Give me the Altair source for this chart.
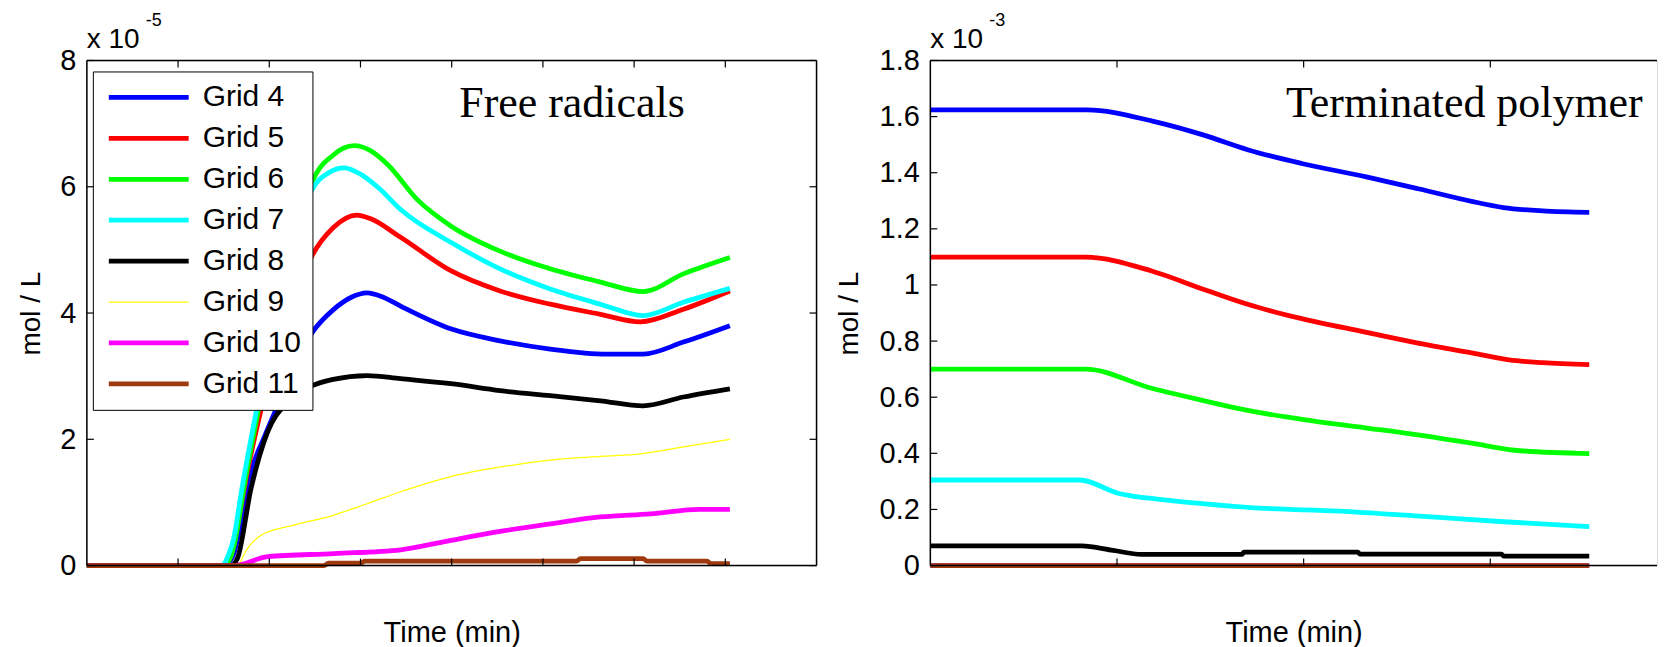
import altair as alt
import pandas as pd

# ---------------- data ----------------
names = ["Grid 4", "Grid 5", "Grid 6", "Grid 7", "Grid 8", "Grid 9", "Grid 10", "Grid 11"]
colors = ["#0000FF", "#FF0000", "#00FF00", "#00FFFF", "#000000", "#FFFF00", "#FF00FF", "#9E3A0E"]
widths = [4.8, 4.8, 4.8, 4.8, 4.8, 1.2, 4.8, 4.8]

# Free radicals (units of 1e-5 mol/L); time axis in tick units (labels hidden)
fr_x_g4 = [0, 1.50, 1.60, 1.70, 1.80, 1.95, 2.09, 2.25, 2.47, 2.70, 2.90, 3.07, 3.25, 3.44, 3.99, 4.53, 5.08, 5.70, 6.10, 6.54, 7.05]
fr_y_g4 = [0, 0, 0.15, 0.75, 1.48, 2.05, 2.53, 3.10, 3.69, 4.05, 4.25, 4.32, 4.25, 4.11, 3.75, 3.56, 3.43, 3.35, 3.35, 3.54, 3.80]
fr_x_g5 = [0, 1.50, 1.60, 1.68, 1.76, 1.92, 2.10, 2.30, 2.47, 2.70, 2.96, 3.10, 3.44, 3.99, 4.53, 5.08, 5.63, 6.07, 6.54, 7.05]
fr_y_g5 = [0, 0, 0.25, 0.85, 1.48, 2.53, 3.50, 4.35, 4.91, 5.35, 5.55, 5.50, 5.20, 4.67, 4.35, 4.14, 3.98, 3.86, 4.06, 4.35]
fr_x_g6 = [0, 1.50, 1.58, 1.63, 1.72, 1.82, 1.89, 2.02, 2.17, 2.32, 2.47, 2.70, 2.93, 3.10, 3.30, 3.62, 3.99, 4.53, 5.08, 5.63, 6.10, 6.54, 7.05]
fr_y_g6 = [0, 0, 0.15, 0.43, 1.22, 2.01, 2.53, 3.50, 4.50, 5.35, 6.07, 6.50, 6.65, 6.58, 6.35, 5.80, 5.38, 4.98, 4.70, 4.49, 4.34, 4.62, 4.88]
fr_x_g7 = [0, 1.48, 1.55, 1.61, 1.70, 1.80, 1.87, 2.00, 2.15, 2.30, 2.47, 2.65, 2.82, 3.00, 3.20, 3.44, 3.99, 4.53, 5.08, 5.63, 6.10, 6.54, 7.05]
fr_y_g7 = [0, 0, 0.16, 0.43, 1.22, 2.01, 2.53, 3.50, 4.50, 5.30, 5.96, 6.22, 6.30, 6.20, 5.98, 5.64, 5.12, 4.70, 4.38, 4.14, 3.96, 4.17, 4.39]
fr_x_g8 = [0, 1.58, 1.65, 1.80, 1.98, 2.20, 2.47, 2.70, 3.07, 3.44, 3.99, 4.53, 5.08, 5.63, 6.10, 6.54, 7.05]
fr_y_g8 = [0, 0, 0.11, 1.22, 2.11, 2.59, 2.85, 2.95, 3.01, 2.96, 2.88, 2.77, 2.69, 2.61, 2.53, 2.67, 2.80]
fr_x_g9 = [0, 1.65, 1.75, 1.91, 2.27, 2.71, 3.07, 3.44, 3.99, 4.53, 5.08, 5.63, 6.07, 6.54, 7.05]
fr_y_g9 = [0, 0, 0.25, 0.48, 0.64, 0.80, 0.98, 1.17, 1.41, 1.56, 1.67, 1.73, 1.77, 1.88, 2.00]
fr_x_g10 = [0, 1.62, 1.98, 2.71, 3.44, 3.99, 4.53, 5.08, 5.63, 6.18, 6.72, 7.05]
fr_y_g10 = [0, 0, 0.14, 0.19, 0.25, 0.40, 0.54, 0.66, 0.77, 0.82, 0.89, 0.89]
fr_x_g11 = [0, 2.60, 2.65, 3.00, 3.05, 5.37, 5.41, 6.10, 6.14, 6.80, 6.84, 7.05]
fr_y_g11 = [0, 0, 0.04, 0.04, 0.07, 0.07, 0.11, 0.11, 0.07, 0.07, 0.03, 0.03]

# Terminated polymer (units of 1e-3 mol/L)
tp_x_g4 = [0, 0.84, 1.19, 1.47, 1.70, 1.99, 2.33, 2.62, 2.90, 3.07, 3.28, 3.53]
tp_y_g4 = [1.624, 1.624, 1.584, 1.533, 1.482, 1.433, 1.386, 1.342, 1.298, 1.276, 1.264, 1.259]
tp_x_g5 = [0, 0.83, 1.19, 1.47, 1.70, 1.99, 2.33, 2.62, 2.90, 3.10, 3.28, 3.53]
tp_y_g5 = [1.099, 1.099, 1.049, 0.983, 0.931, 0.880, 0.832, 0.792, 0.758, 0.733, 0.723, 0.716]
tp_x_g6 = [0, 0.83, 1.19, 1.47, 1.70, 1.99, 2.33, 2.62, 2.90, 3.13, 3.53]
tp_y_g6 = [0.700, 0.700, 0.631, 0.587, 0.553, 0.521, 0.491, 0.465, 0.436, 0.411, 0.399]
tp_x_g7 = [0, 0.80, 1.01, 1.24, 1.47, 1.76, 2.19, 2.62, 3.05, 3.53]
tp_y_g7 = [0.305, 0.305, 0.257, 0.235, 0.220, 0.205, 0.194, 0.176, 0.157, 0.139]
tp_x_g8 = [0, 0.81, 0.98, 1.13, 1.67, 1.68, 2.29, 2.30, 3.06, 3.07, 3.53]
tp_y_g8 = [0.070, 0.070, 0.054, 0.040, 0.040, 0.048, 0.048, 0.041, 0.041, 0.034, 0.034]
tp_x_g9 = [0, 3.53]
tp_y_g9 = [0, 0]
tp_x_g10 = [0, 3.53]
tp_y_g10 = [0, 0]
tp_x_g11 = [0, 3.53]
tp_y_g11 = [0, 0]

fr_xt = [1, 2, 3, 4, 5, 6, 7]
fr_yt = [0, 2, 4, 6, 8]
tp_xt = [1, 2, 3]
tp_yt = [0, 0.2, 0.4, 0.6, 0.8, 1.0, 1.2, 1.4, 1.6, 1.8]

fr_series = [(fr_x_g4, fr_y_g4), (fr_x_g5, fr_y_g5), (fr_x_g6, fr_y_g6), (fr_x_g7, fr_y_g7),
             (fr_x_g8, fr_y_g8), (fr_x_g9, fr_y_g9), (fr_x_g10, fr_y_g10), (fr_x_g11, fr_y_g11)]
tp_series = [(tp_x_g4, tp_y_g4), (tp_x_g5, tp_y_g5), (tp_x_g6, tp_y_g6), (tp_x_g7, tp_y_g7),
             (tp_x_g8, tp_y_g8), (tp_x_g9, tp_y_g9), (tp_x_g10, tp_y_g10), (tp_x_g11, tp_y_g11)]


def long_df(series):
    rows = []
    for k, (xs, ys) in enumerate(series):
        for i, (a, b) in enumerate(zip(xs, ys)):
            rows.append({"series": names[k], "k": k, "i": i, "t": a, "v": b})
    return pd.DataFrame(rows)


SANS = "Liberation Sans"
SERIF = "Liberation Serif"
H = 506
TICK = 7
FRAME = 1.5


def panel(series, W, xdom, ydom, xt, yt, yfmt, title, title_x, expo, show_legend, ytp, closed):
    xs = alt.Scale(domain=xdom, nice=False, zero=False)
    ys = alt.Scale(domain=ydom, nice=False, zero=False)
    df = long_df(series)

    xaxis = alt.Axis(title="Time (min)", labels=False, ticks=False, domain=False, grid=False,
                     titleFont=SANS, titleFontSize=29, titleFontWeight="normal",
                     titleColor="black", titlePadding=53)
    yaxis = alt.Axis(title="mol / L", values=yt, format=yfmt, ticks=False, domain=False,
                     grid=False, labelFont=SANS, labelFontSize=29, labelColor="black",
                     labelPadding=11, titleFont=SANS, titleFontSize=28,
                     titleFontWeight="normal", titleColor="black", titlePadding=ytp)

    if show_legend:
        leg = alt.Legend(title=None, orient="none", legendX=6, legendY=11,
                         fillColor="white", strokeColor="black", padding=11,
                         symbolType="M-1,0H7", symbolSize=400,
                         labelFont=SANS, labelFontSize=30, labelColor="black",
                         labelOffset=69, rowPadding=11, labelLimit=400)
    else:
        leg = None

    lines = alt.Chart(df).mark_line(interpolate="monotone", strokeCap="butt").encode(
        x=alt.X("t:Q", scale=xs, axis=xaxis),
        y=alt.Y("v:Q", scale=ys, axis=yaxis),
        color=alt.Color("series:N", sort=names, scale=alt.Scale(domain=names, range=colors), legend=leg),
        strokeWidth=alt.StrokeWidth("series:N", sort=names,
                                    scale=alt.Scale(type="ordinal", domain=names, range=widths),
                                    legend=leg),
        detail="k:O",
        order="i:Q",
    )

    dxt = pd.DataFrame({"t": xt})
    dyt = pd.DataFrame({"v": yt})
    layers = [lines]
    layers.append(alt.Chart(dxt).mark_rule(color="black", strokeWidth=1.2).encode(
        x=alt.X("t:Q", scale=xs, axis=xaxis), y=alt.value(H), y2=alt.value(H - TICK)))
    layers.append(alt.Chart(dxt).mark_rule(color="black", strokeWidth=1.2).encode(
        x=alt.X("t:Q", scale=xs, axis=xaxis), y=alt.value(0), y2=alt.value(TICK)))
    layers.append(alt.Chart(dyt).mark_rule(color="black", strokeWidth=1.2).encode(
        y=alt.Y("v:Q", scale=ys, axis=yaxis), x=alt.value(0), x2=alt.value(TICK)))
    if closed:
        layers.append(alt.Chart(dyt).mark_rule(color="black", strokeWidth=1.2).encode(
            y=alt.Y("v:Q", scale=ys, axis=yaxis), x=alt.value(W), x2=alt.value(W - TICK)))

    # plot frame (right side left open where the original is cut by the image edge)
    one = pd.DataFrame({"d": [0]})
    layers.append(alt.Chart(one).mark_rule(color="black", strokeWidth=FRAME).encode(
        x=alt.value(0), x2=alt.value(W), y=alt.value(0)))
    layers.append(alt.Chart(one).mark_rule(color="black", strokeWidth=FRAME).encode(
        x=alt.value(0), x2=alt.value(W), y=alt.value(H)))
    layers.append(alt.Chart(one).mark_rule(color="black", strokeWidth=FRAME).encode(
        x=alt.value(0), y=alt.value(0), y2=alt.value(H)))
    if closed:
        layers.append(alt.Chart(one).mark_rule(color="black", strokeWidth=FRAME).encode(
            x=alt.value(W), y=alt.value(0), y2=alt.value(H)))

    layers.append(alt.Chart(pd.DataFrame({"s": [title]})).mark_text(
        font=SERIF, fontSize=44, align="center", baseline="alphabetic", color="black"
    ).encode(text="s:N", x=alt.value(title_x), y=alt.value(57)))
    layers.append(alt.Chart(pd.DataFrame({"s": ["x 10"]})).mark_text(
        font=SANS, fontSize=28, align="left", baseline="alphabetic", color="black"
    ).encode(text="s:N", x=alt.value(0), y=alt.value(-13)))
    layers.append(alt.Chart(pd.DataFrame({"s": [expo]})).mark_text(
        font=SANS, fontSize=18, align="left", baseline="alphabetic", color="black"
    ).encode(text="s:N", x=alt.value(59), y=alt.value(-35)))

    return alt.layer(*layers).properties(width=W, height=H)


# the right panel of the original is cut by the image edge: full panel would be 748 px for 4 units
RW = 728
left = panel(fr_series, 731, [0, 8], [0, 8], fr_xt, fr_yt, "d", "Free radicals", 486, "-5", True, 14, True)
right = panel(tp_series, RW, [0, 4 * RW / 748], [0, 1.8], tp_xt, tp_yt, ".1~f", "Terminated polymer",
              535, "-3", False, 16, False)

chart = alt.hconcat(left, right, spacing=16).resolve_scale(
    color="independent", strokeWidth="independent"
).properties(
    padding={"left": 9, "top": 2, "right": 0, "bottom": 0}
).configure_view(stroke=None).configure(background="white")

chart.save("out.html", embed_options={"renderer": "svg", "actions": False})
